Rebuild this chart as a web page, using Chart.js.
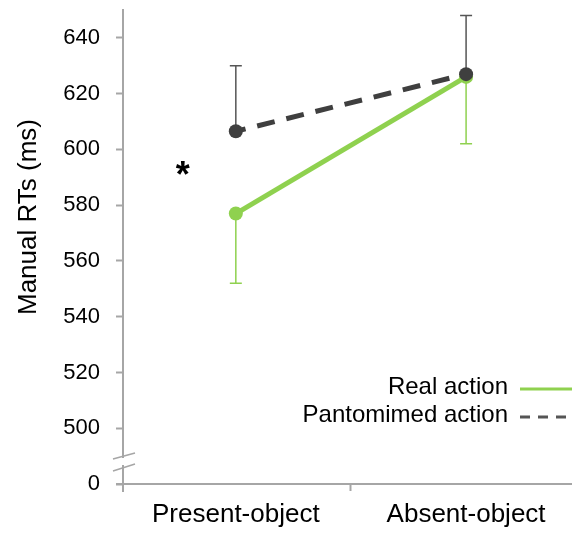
<!DOCTYPE html>
<html>
<head>
<meta charset="utf-8">
<script src="https://cdn.jsdelivr.net/npm/chart.js@4"></script>
<style>
  html, body { margin: 0; padding: 0; background: #fff; overflow: hidden; }
  #wrap { width: 572px; height: 535px; }
</style>
</head>
<body>
<div id="wrap"><canvas id="myChart" width="572" height="535"></canvas></div>
<script>
const categories = ['Present-object', 'Absent-object'];
const realAction = [577, 626];
const pantomimed = [606.5, 627];
const realErrLow = [552, 602];
const pantoErrHigh = [630, 648];
const yTicks = [480, 500, 520, 540, 560, 580, 600, 620, 640];

const green = '#8fd14f';
const dark = '#3f3f3f';
const axisGrey = '#a6a6a6';
const font = "'Liberation Sans', Arial, sans-serif";

const extras = {
    id: 'extras',
    beforeDatasetsDraw(chart) {
        const c = chart.ctx, x = chart.scales.x, y = chart.scales.y;
        const bar = (i, from, to, col) => {
            const px = x.getPixelForValue(i);
            c.save();
            c.strokeStyle = col;
            c.lineWidth = 1.5;
            c.beginPath();
            c.moveTo(px, y.getPixelForValue(from));
            c.lineTo(px, y.getPixelForValue(to));
            c.moveTo(px - 6, y.getPixelForValue(to));
            c.lineTo(px + 6, y.getPixelForValue(to));
            c.stroke();
            c.restore();
        };
        realAction.forEach((v, i) => bar(i, v, realErrLow[i], green));
        pantomimed.forEach((v, i) => bar(i, v, pantoErrHigh[i], '#555'));
    },
    afterDraw(chart) {
        const c = chart.ctx, x = chart.scales.x, y = chart.scales.y;
        const left = chart.chartArea.left, bottom = chart.chartArea.bottom;
        c.save();
        // axes run a little past their crossing
        c.strokeStyle = axisGrey;
        c.lineWidth = 2;
        c.beginPath();
        c.moveTo(left, bottom);
        c.lineTo(left, bottom + 8);
        c.moveTo(left, bottom);
        c.lineTo(left - 7, bottom);
        c.stroke();
        // axis break
        c.fillStyle = '#fff';
        c.fillRect(left - 3, 458, 6, 7);
        c.lineWidth = 1.5;
        c.beginPath();
        c.moveTo(113, 459); c.lineTo(135, 453);
        c.moveTo(113, 471); c.lineTo(135, 464);
        c.stroke();
        // y title
        c.fillStyle = '#000';
        c.font = '26px ' + font;
        c.textAlign = 'center';
        c.textBaseline = 'middle';
        c.translate(29, 217);
        c.rotate(-Math.PI / 2);
        c.fillText('Manual RTs (ms)', 0, 0);
        c.restore();
        // asterisk
        c.save();
        c.fillStyle = '#000';
        c.font = 'bold 36px ' + font;
        c.textAlign = 'center';
        c.textBaseline = 'middle';
        c.fillText('*', x.getPixelForValue(-0.23), y.getPixelForValue(590));
        // legend
        c.font = '24px ' + font;
        c.textAlign = 'right';
        c.fillText('Real action', 508, 387);
        c.fillText('Pantomimed action', 508, 415);
        c.lineWidth = 3;
        c.strokeStyle = green;
        c.beginPath(); c.moveTo(520, 389); c.lineTo(572, 389); c.stroke();
        c.strokeStyle = '#555';
        c.setLineDash([10, 8]);
        c.beginPath(); c.moveTo(520, 417); c.lineTo(568, 417); c.stroke();
        c.restore();
    }
};

new Chart(document.getElementById('myChart'), {
    type: 'line',
    data: {
        datasets: [
            {
                label: 'Pantomimed action',
                data: pantomimed.map((v, i) => ({ x: i, y: v })),
                borderColor: dark,
                backgroundColor: dark,
                borderWidth: 5,
                borderDash: [18, 12],
                borderDashOffset: 8,
                pointRadius: 7,
                pointBorderWidth: 0,
                order: 1
            },
            {
                label: 'Real action',
                data: realAction.map((v, i) => ({ x: i, y: v })),
                borderColor: green,
                backgroundColor: green,
                borderWidth: 5,
                pointRadius: 7,
                pointBorderWidth: 0,
                order: 2
            }
        ]
    },
    options: {
        responsive: false,
        animation: false,
        layout: { autoPadding: false, padding: { top: 10, right: 0, left: 0, bottom: 0 } },
        plugins: { legend: { display: false }, tooltip: { enabled: false } },
        scales: {
            x: {
                type: 'linear',
                min: -0.49,
                max: 1.46,
                afterBuildTicks: s => { s.ticks = [0, 0.5, 1].map(v => ({ value: v })); },
                afterFit: s => { s.height = 51; s.paddingLeft = 0; s.paddingRight = 0; },
                border: { color: axisGrey, width: 2 },
                grid: {
                    drawOnChartArea: false,
                    tickLength: 7,
                    tickWidth: 2,
                    tickColor: ctx => ctx.tick && ctx.tick.value === 0.5 ? axisGrey : 'rgba(0,0,0,0)'
                },
                ticks: {
                    padding: 8,
                    color: '#000',
                    font: { family: font, size: 26 },
                    maxRotation: 0,
                    autoSkip: false,
                    callback: v => v === 0 ? categories[0] : v === 1 ? categories[1] : ''
                }
            },
            y: {
                type: 'linear',
                min: 480,
                max: 650,
                afterBuildTicks: s => { s.ticks = yTicks.map(v => ({ value: v })); },
                afterFit: s => { s.width = 123; s.paddingTop = 0; s.paddingBottom = 0; },
                border: { color: axisGrey, width: 2 },
                grid: { drawOnChartArea: false, tickLength: 7, tickWidth: 2, tickColor: axisGrey },
                ticks: {
                    padding: 16,
                    color: '#000',
                    font: { family: font, size: 22 },
                    autoSkip: false,
                    callback: v => v === 480 ? '0' : String(v)
                }
            }
        }
    },
    plugins: [extras]
});
</script>
</body>
</html>
